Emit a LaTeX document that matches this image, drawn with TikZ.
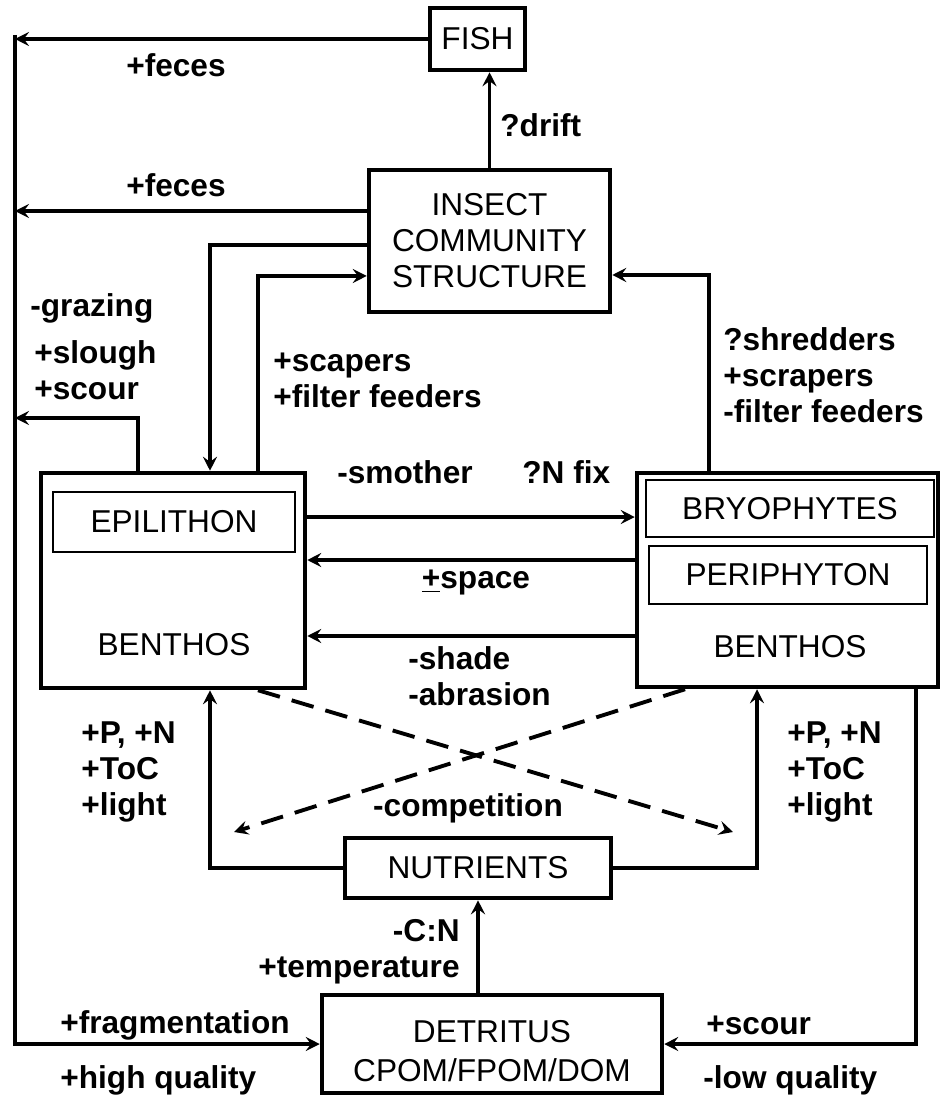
\documentclass[tikz,border=0pt]{standalone}
\usepackage{fontspec}
\setmainfont{Liberation Sans}
\usepackage{tikz}
\usetikzlibrary{arrows.meta, positioning}
\tikzset{
  box/.style={rectangle, draw, line width=2.6pt, align=center, inner sep=0pt,
              font=\fontsize{18}{20.5}\selectfont},
  subbox/.style={rectangle, draw, line width=1.3pt, inner sep=0pt,
                 font=\fontsize{18}{20.5}\selectfont},
  boxtext/.style={inner sep=0pt, align=center, font=\fontsize{18}{20.5}\selectfont},
  lbl/.style={inner sep=0pt, align=left, font=\fontsize{18}{20.5}\selectfont\bfseries},
  arrow/.style={-{Stealth[length=8pt,width=8pt,inset=3pt]}, line width=2.2pt},
  comparrow/.style={arrow, dash pattern=on 13pt off 7pt},
}

\begin{document}
\begin{tikzpicture}[x=0.02cm, y=-0.02cm]
    \useasboundingbox (0,0) rectangle (942,1097);
    \node[box, minimum width=1.9cm, minimum height=1.24cm] (fish) at (477.5,39) {FISH};
    \node[box, minimum width=4.82cm, minimum height=2.84cm] (insect) at (489.5,241)
      {INSECT\\COMMUNITY\\STRUCTURE};
    \node[box, minimum width=5.28cm, minimum height=4.3cm] (benthosL) at (173,580.5) {};
    \node[subbox, minimum width=4.84cm, minimum height=1.2cm] (epilithon) at (174,522) {EPILITHON};
    \node[boxtext] (benthosLtxt) at (174,645) {BENTHOS};
    \node[box, minimum width=6.02cm, minimum height=4.28cm] (benthosR) at (787.5,580) {};
    \node[subbox, minimum width=5.76cm, minimum height=1.14cm] (bryophytes) at (790,508.5) {BRYOPHYTES};
    \node[subbox, minimum width=5.56cm, minimum height=1.16cm] (periphyton) at (788,575) {PERIPHYTON};
    \node[boxtext] (benthosRtxt) at (790,647) {BENTHOS};
    \node[box, minimum width=5.32cm, minimum height=1.2cm] (nutrients) at (478,868) {NUTRIENTS};
    \node[box, minimum width=6.8cm, minimum height=1.96cm] (detritus) at (492,1044) {};
    \node[boxtext] (detritusTxt) at (492,1051) {DETRITUS\\[2pt]CPOM/FPOM/DOM};

    \coordinate (ltop) at (15,35);
    \coordinate (slough) at (15,418);
    \coordinate (compL) at (234,832);
    \coordinate (compR) at (733,832);

    \draw[arrow] (ltop) |- (detritus.west);
    \draw[arrow] (fish.west) -- (fish.west -| ltop);
    \draw[arrow] (insect.north) -- (insect.north |- fish.south);
    \draw[arrow] ([yshift=0.6cm]insect.west) coordinate (fec) -- (fec -| ltop);
    \draw[arrow] ([yshift=-0.08cm]insect.west) -| ([xshift=0.74cm]benthosL.north);
    \draw[arrow] ([xshift=1.7cm]benthosL.north) |- ([yshift=-0.7cm]insect.west);
    \draw[arrow] ([xshift=-0.7cm]benthosL.north) |- (slough);
    \draw[arrow] ([xshift=-1.57cm]benthosR.north) |- ([yshift=-0.68cm]insect.east);
    \draw[arrow] ([yshift=1.27cm]benthosL.east) coordinate (sm) -- (sm -| benthosR.west);
    \draw[arrow] ([yshift=0.4cm]benthosR.west) coordinate (sp) -- (sp -| benthosL.east);
    \draw[arrow] ([yshift=-1.12cm]benthosR.west) coordinate (sh) -- (sh -| benthosL.east);
    \draw[arrow] (nutrients.west) -| ([xshift=0.74cm]benthosL.south);
    \draw[arrow] (nutrients.east) -| ([xshift=-0.61cm]benthosR.south);
    \draw[arrow] (nutrients.south |- detritus.north) -- (nutrients.south);
    \draw[arrow] ([xshift=2.57cm]benthosR.south) |- (detritus.east);
    \draw[comparrow] ([xshift=1.7cm]benthosL.south) -- (compR);
    \draw[comparrow] ([xshift=-2.05cm]benthosR.south) -- (compL);

    \node[lbl] (fecesTop) at (176,65) {+feces};
    \node[lbl] (fecesMid) at (176,185) {+feces};
    \node[lbl, anchor=west] (drift) at (500,125) {?drift};
    \node[lbl, anchor=west] (grazing) at (30,308) {-grazing};
    \node[lbl, anchor=west] (scour) at (34,370) {+slough\\+scour};
    \node[lbl, anchor=west] (scapers) at (273,380) {+scapers\\+filter feeders};
    \node[lbl, anchor=west] (shredders) at (723,375) {?shredders\\+scrapers\\-filter feeders};
    \node[lbl, anchor=west] (smother) at (337,472) {-smother};
    \node[lbl, anchor=west] (nfix) at (522,472) {?N fix};
    \node[lbl] (space) at (476,583) {\underline{+}space};
    \node[lbl, anchor=west] (shade) at (408,676) {-shade\\-abrasion};
    \node[lbl, anchor=west] (nutL) at (81,772) {+P, +N\\+ToC\\+light};
    \node[lbl, anchor=west] (nutR) at (787,772) {+P, +N\\+ToC\\+light};
    \node[lbl] (competition) at (468,808) {-competition};
    \node[lbl, anchor=east, align=right] (cn) at (460,952) {-C:N\\+temperature};
    \node[lbl, anchor=west] (frag) at (60,1025) {+fragmentation};
    \node[lbl, anchor=west] (highq) at (60,1080) {+high quality};
    \node[lbl, anchor=west] (scourR) at (706,1025) {+scour};
    \node[lbl, anchor=west] (lowq) at (703,1080) {-low quality};
\end{tikzpicture}
\end{document}
